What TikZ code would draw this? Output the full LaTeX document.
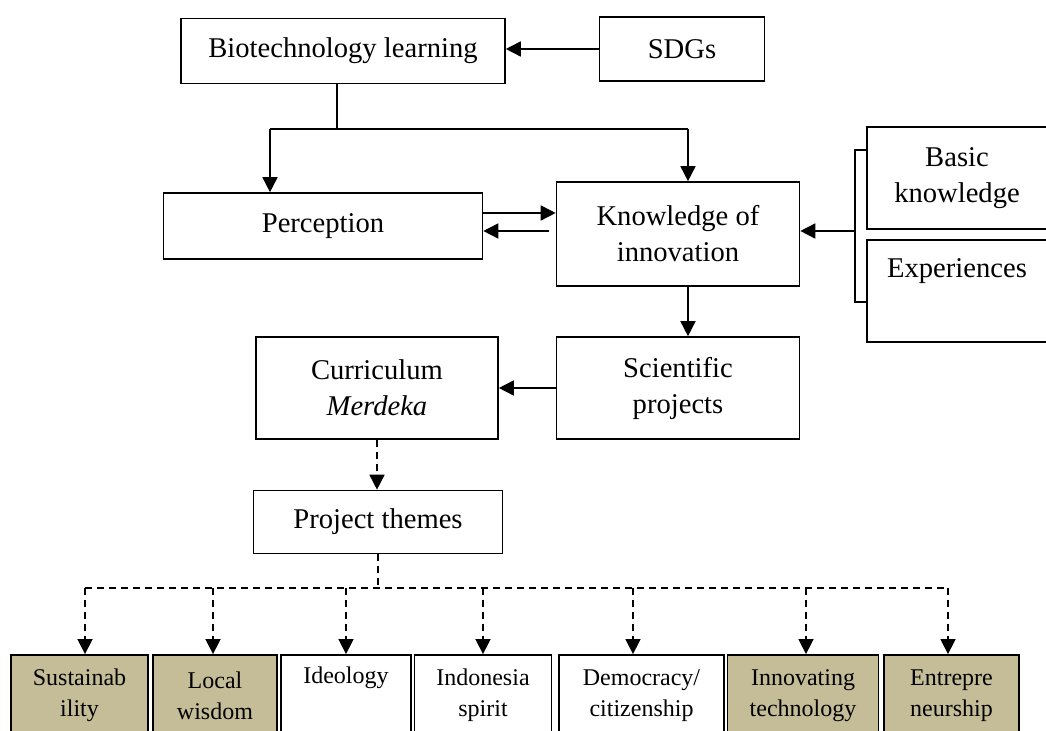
\documentclass[tikz,border=0pt]{standalone}
\usepackage{fontspec}
\setmainfont{Liberation Serif}
\usetikzlibrary{arrows.meta}
\definecolor{khaki}{HTML}{C4BD97}
\begin{document}
\begin{tikzpicture}[x=0.5pt,y=-0.5pt,
	box/.style={draw, rectangle, line width=0.8pt, align=center, inner sep=2pt, font=\fontsize{14.3}{18}\selectfont},
	theme/.style={draw, rectangle, line width=0.9pt, align=center, inner sep=1pt, minimum height=40.5pt, font=\fontsize{12}{15.5}\selectfont},
	seta/.style={-{Triangle[length=7.5pt,width=7.5pt]}, line width=0.8pt},
	tline/.style={line width=0.8pt, dash pattern=on 3.5pt off 2.5pt},
	tseta/.style={seta, dash pattern=on 3.5pt off 2.5pt}
	]
	\useasboundingbox (0,0) rectangle (1046,731);

	\node[box, minimum width=162pt, minimum height=32.5pt] (bio) at (343,51) {Biotechnology learning};
	\node[box, minimum width=82.5pt, minimum height=32pt] (sdg) at (682,49) {SDGs};
	\node[box, minimum width=159.5pt, minimum height=33pt] (perc) at (323,226) {Perception};
	\node[box, minimum width=121.5pt, minimum height=52pt] (know) at (678,234) {Knowledge of\\innovation};
	\node[box, minimum width=90pt, minimum height=51pt] (basic) at (957,178) {Basic\\knowledge};
	\node[box, minimum width=90pt, minimum height=51pt] (exp) at (957,291) {Experiences\\\strut};
	\node[box, minimum width=121.5pt, minimum height=51pt] (sci) at (678,388) {Scientific\\projects};
	\node[box, minimum width=121pt, minimum height=51pt] (cur) at (377,388) {Curriculum\\\textit{Merdeka}};
	\node[box, minimum width=124.5pt, minimum height=31.5pt] (proj) at (378,522) {Project themes};

	\node[theme, fill=khaki, minimum width=68.5pt] (t1) at (79.5,695.5) {Sustainab\\ility};
	\node[theme, fill=khaki, minimum width=62pt] (t2) at (215,695.5) {Local\\wisdom};
	\node[theme, minimum width=65pt] (t3) at (346,695.5) {Ideology\\\strut};
	\node[theme, minimum width=68.5pt] (t4) at (483,695.5) {Indonesia\\spirit};
	\node[theme, minimum width=82.5pt] (t5) at (641.5,695.5) {Democracy/\\citizenship};
	\node[theme, fill=khaki, minimum width=75.5pt] (t6) at (803,695.5) {Innovating\\technology};
	\node[theme, fill=khaki, minimum width=67.5pt] (t7) at (951.5,695.5) {Entrepre\\neurship};

	% top part
	\draw[seta] (sdg.west) -- (sdg.west -| bio.east);
	\coordinate (split) at (337,129);
	\coordinate (pl) at (270,129);
	\coordinate (pr) at (688,129);
	\draw[line width=0.8pt] (bio.south -| split) -- (split);
	\draw[line width=0.8pt] (pl) -- (pr);
	\draw[seta] (pl) -- (pl |- perc.north);
	\draw[seta] (pr) -- (pr |- know.north);

	\draw[seta] (perc.east |- 0,213) -- (know.west |- 0,213);
	\draw[seta, shorten <=3.5pt] (know.west |- 0,231) -- (perc.east |- 0,231);

	% bracket
	\coordinate (brk) at (855,231);
	\draw[line width=0.8pt] (basic.west |- 0,150) -| (brk) |- (exp.west |- 0,302);
	\draw[seta] (brk) -- (know.east |- brk);

	\draw[seta] (know.south -| pr) -- (sci.north -| pr);
	\draw[seta] (sci.west) -- (cur.east);
	\draw[tseta] (cur.south) -- (cur.south |- proj.north);

	% themes
	\coordinate (tsplit) at (378,588);
	\draw[tline] (proj.south -| tsplit) -- (tsplit);
	\foreach \xx/\n in {85/t1,213/t2,346/t3,483/t4,633/t5,806/t6,948/t7}{
		\coordinate (a\n) at (\xx,588);
		\draw[tseta] (a\n) -- (a\n |- \n.north);
	}
	\draw[tline] (at1) -- (at7);
\end{tikzpicture}
\end{document}
